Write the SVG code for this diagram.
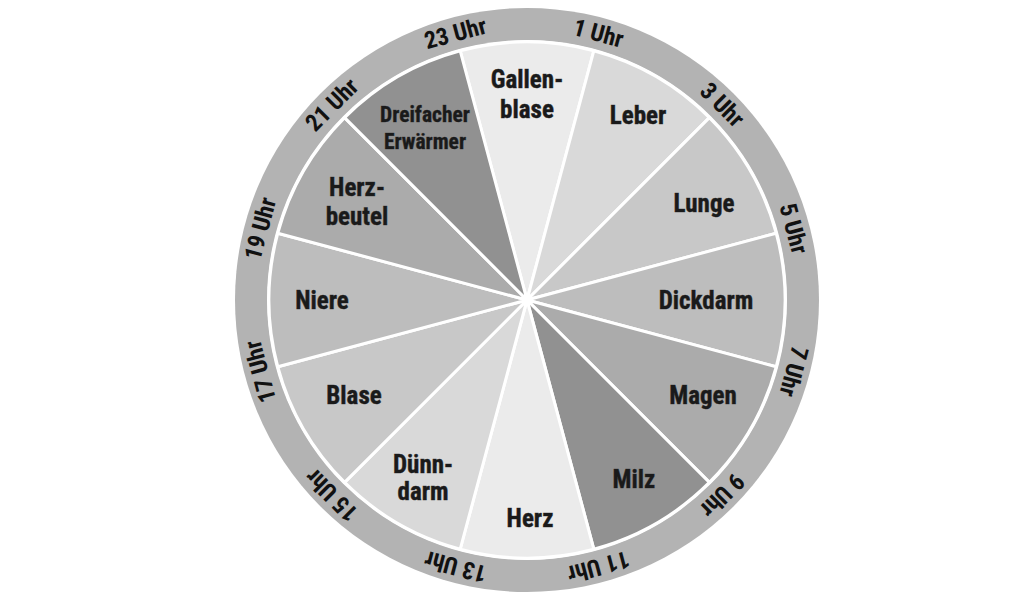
<svg xmlns="http://www.w3.org/2000/svg" width="1024" height="600" viewBox="0 0 1024 600">
<style>
.seg{stroke:#fff;stroke-width:3;stroke-linejoin:round}
.lbl{font-family:"Roboto Condensed",Roboto,"Liberation Sans",sans-serif;font-weight:bold;font-size:25px;fill:#1a1a1a;text-anchor:middle;stroke:#444;stroke-width:0.5;paint-order:stroke}
.small{font-size:21.5px}
.hr{font-family:"Roboto Condensed",Roboto,"Liberation Sans",sans-serif;font-weight:bold;font-size:24px;fill:#111;text-anchor:middle;dominant-baseline:central}
</style>
<rect width="1024" height="600" fill="#fff"/>
<g id="ring">
<circle cx="527" cy="300" r="292" fill="#b3b3b3"/>
<circle cx="527" cy="300" r="260" fill="#fff"/>
</g>
<g id="segments">
<path id="s-gallenblase" class="seg" fill="#ebebeb" d="M527 300 L460.2 50.8 A258 258 0 0 1 593.8 50.8 Z"/>
<path id="s-leber" class="seg" fill="#d9d9d9" d="M527 300 L593.8 50.8 A258 258 0 0 1 709.4 117.6 Z"/>
<path id="s-lunge" class="seg" fill="#c8c8c8" d="M527 300 L709.4 117.6 A258 258 0 0 1 776.2 233.2 Z"/>
<path id="s-dickdarm" class="seg" fill="#bdbdbd" d="M527 300 L776.2 233.2 A258 258 0 0 1 776.2 366.8 Z"/>
<path id="s-magen" class="seg" fill="#ababab" d="M527 300 L776.2 366.8 A258 258 0 0 1 709.4 482.4 Z"/>
<path id="s-milz" class="seg" fill="#919191" d="M527 300 L709.4 482.4 A258 258 0 0 1 593.8 549.2 Z"/>
<path id="s-herz" class="seg" fill="#ebebeb" d="M527 300 L593.8 549.2 A258 258 0 0 1 460.2 549.2 Z"/>
<path id="s-duenndarm" class="seg" fill="#d9d9d9" d="M527 300 L460.2 549.2 A258 258 0 0 1 344.6 482.4 Z"/>
<path id="s-blase" class="seg" fill="#c8c8c8" d="M527 300 L344.6 482.4 A258 258 0 0 1 277.8 366.8 Z"/>
<path id="s-niere" class="seg" fill="#bdbdbd" d="M527 300 L277.8 366.8 A258 258 0 0 1 277.8 233.2 Z"/>
<path id="s-herzbeutel" class="seg" fill="#ababab" d="M527 300 L277.8 233.2 A258 258 0 0 1 344.6 117.6 Z"/>
<path id="s-dreifacher" class="seg" fill="#919191" d="M527 300 L344.6 117.6 A258 258 0 0 1 460.2 50.8 Z"/>
</g>
<g id="organ-labels">
<text class="lbl" x="527" y="88">Gallen-</text>
<text class="lbl" x="527" y="118">blase</text>
<text class="lbl" x="638" y="124">Leber</text>
<text class="lbl" x="704" y="212">Lunge</text>
<text class="lbl" x="706" y="309">Dickdarm</text>
<text class="lbl" x="703" y="404">Magen</text>
<text class="lbl" x="634" y="488">Milz</text>
<text class="lbl" x="530" y="527">Herz</text>
<text class="lbl" x="423" y="473">Dünn-</text>
<text class="lbl" x="423" y="500">darm</text>
<text class="lbl" x="354" y="404">Blase</text>
<text class="lbl" x="322" y="309">Niere</text>
<text class="lbl" x="357" y="196">Herz-</text>
<text class="lbl" x="357" y="225">beutel</text>
<text class="lbl small" x="425" y="122">Dreifacher</text>
<text class="lbl small" x="425" y="149">Erwärmer</text>
</g>
<g id="hour-labels">
<text class="hr" x="527" y="24" transform="rotate(15 527 300)">1 Uhr</text>
<text class="hr" x="527" y="24" transform="rotate(45 527 300)">3 Uhr</text>
<text class="hr" x="527" y="24" transform="rotate(75 527 300)">5 Uhr</text>
<text class="hr" x="527" y="24" transform="rotate(105 527 300)">7 Uhr</text>
<text class="hr" x="527" y="24" transform="rotate(135 527 300)">9 Uhr</text>
<text class="hr" x="527" y="24" transform="rotate(165 527 300)">11 Uhr</text>
<text class="hr" x="527" y="24" transform="rotate(195 527 300)">13 Uhr</text>
<text class="hr" x="527" y="24" transform="rotate(225 527 300)">15 Uhr</text>
<text class="hr" x="527" y="24" transform="rotate(255 527 300)">17 Uhr</text>
<text class="hr" x="527" y="24" transform="rotate(285 527 300)">19 Uhr</text>
<text class="hr" x="527" y="24" transform="rotate(315 527 300)">21 Uhr</text>
<text class="hr" x="527" y="24" transform="rotate(345 527 300)">23 Uhr</text>
</g>
</svg>
